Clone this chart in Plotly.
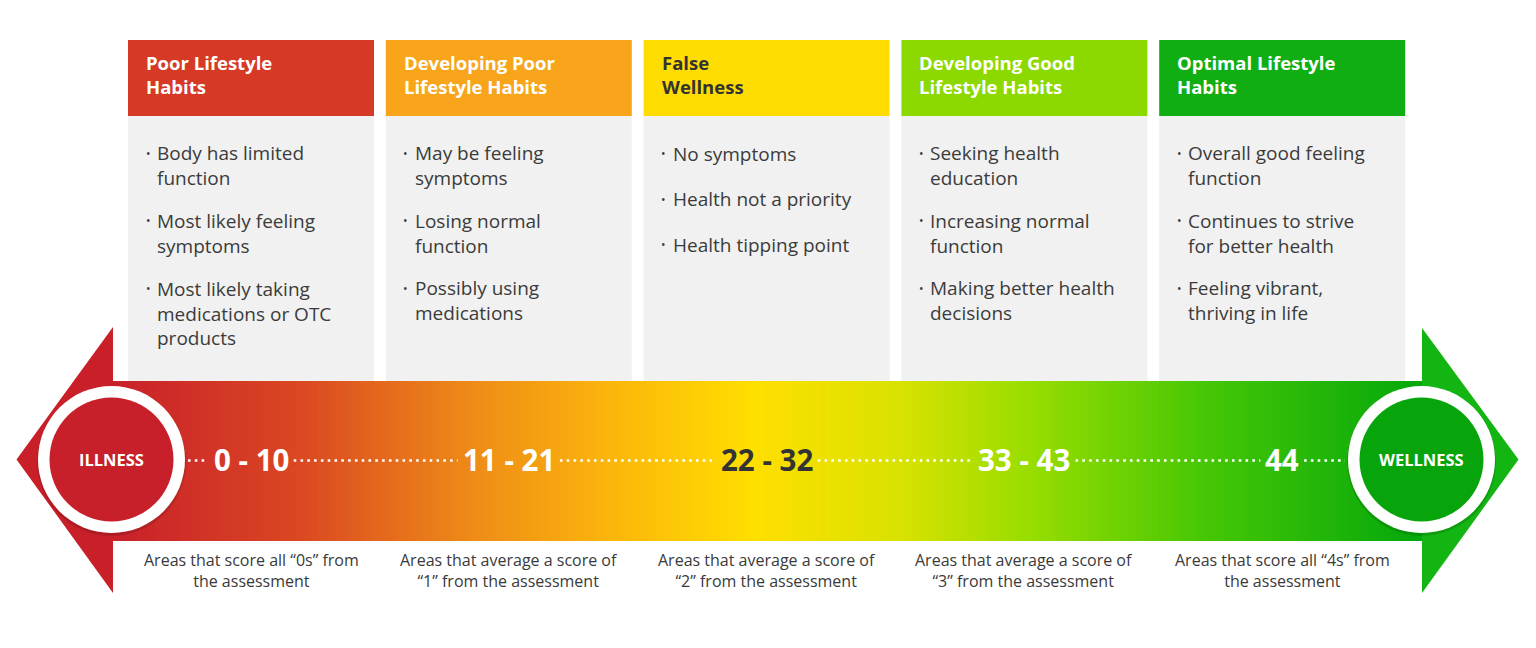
import numpy as np
import plotly.graph_objects as go

# ---------------- data ----------------
headers = [
    ["Poor Lifestyle", "Habits"],
    ["Developing Poor", "Lifestyle Habits"],
    ["False", "Wellness"],
    ["Developing Good", "Lifestyle Habits"],
    ["Optimal Lifestyle", "Habits"],
]
header_colors = ["#D63A26", "#F8A51B", "#FFDD00", "#8BD900", "#10AE12"]
header_text_colors = ["#FFFFFF", "#FFFFFF", "#333333", "#FFFFFF", "#FFFFFF"]

bullets = [
    [["Body has limited", "function"], ["Most likely feeling", "symptoms"],
     ["Most likely taking", "medications or OTC", "products"]],
    [["May be feeling", "symptoms"], ["Losing normal", "function"],
     ["Possibly using", "medications"]],
    [["No symptoms"], ["Health not a priority"], ["Health tipping point"]],
    [["Seeking health", "education"], ["Increasing normal", "function"],
     ["Making better health", "decisions"]],
    [["Overall good feeling", "function"], ["Continues to strive", "for better health"],
     ["Feeling vibrant,", "thriving in life"]],
]

score_ranges = ["0 - 10", "11 - 21", "22 - 32", "33 - 43", "44"]
range_text_colors = ["#FFFFFF", "#FFFFFF", "#333333", "#FFFFFF", "#FFFFFF"]

descriptions = [
    ["Areas that score all “0s” from", "the assessment"],
    ["Areas that average a score of", "“1” from the assessment"],
    ["Areas that average a score of", "“2” from the assessment"],
    ["Areas that average a score of", "“3” from the assessment"],
    ["Areas that score all “4s” from", "the assessment"],
]

end_labels = ["ILLNESS", "WELLNESS"]
end_colors = ["#C8202A", "#07A50B"]
arrow_colors = ["#C81F29", "#12B512"]

gradient_stops = [0.0, 0.14, 0.28, 0.39, 0.49, 0.60, 0.70, 0.83, 1.0]
gradient_colors = ["#C8202A", "#DA4622", "#EF8E17", "#FCB90A", "#FFDF00",
                   "#D9E200", "#98DD00", "#48C705", "#03A80B"]

# ---------------- layout geometry ----------------
PAGE_OFF = 8          # default body margin of the html page
W, H = 1536 - 2 * PAGE_OFF, 648 - 2 * PAGE_OFF
panel_x0 = 128.0
panel_step = 257.8
panel_w = 246.0
head_top, head_bot, body_bot = 40.0, 116.0, 381.0
band_top, band_bot = 381.0, 541.0
band_x0, band_x1 = 112.0, 1423.0
mid_y = 459.5
circ_cx = [111.5, 1421.5]
r_outer, r_inner = 73.5, 62.0

FONT = "Open Sans, Noto Sans, sans-serif"
TXT = "#3B3B3B"
LS = 1.3  # plotly line spacing factor

fig = go.Figure()
shapes = []
annotations = []

# gradient band (heatmap over pixel-space axes)
nb = 400
xe = np.linspace(band_x0, band_x1, nb + 1)
xc = (xe[:-1] + xe[1:]) / 2
fig.add_trace(go.Heatmap(
    x=xe, y=[band_top, band_bot], z=[xc],
    colorscale=[[s, c] for s, c in zip(gradient_stops, gradient_colors)],
    zmin=band_x0, zmax=band_x1, showscale=False, hoverinfo="skip",
))

# panels
HS = 18.5
BS = 19
for i, (hdr, hc, htc, items) in enumerate(zip(headers, header_colors, header_text_colors, bullets)):
    x0 = panel_x0 + i * panel_step
    x1 = x0 + panel_w
    shapes.append(dict(type="rect", x0=x0, x1=x1, y0=head_bot, y1=body_bot,
                       fillcolor="#F1F1F1", line=dict(width=0), layer="below"))
    shapes.append(dict(type="rect", x0=x0, x1=x1, y0=head_top, y1=head_bot,
                       fillcolor=hc, line=dict(width=0), layer="below"))
    annotations.append(dict(x=x0 + 16, y=62.5 + (len(hdr) - 1) * HS * LS / 2,
                            text="<br>".join("<b>%s</b>" % l for l in hdr),
                            xanchor="left", yanchor="middle", align="left", showarrow=False,
                            font=dict(family=FONT, size=HS, color=htc)))
    y = 153.5
    for item in items:
        annotations.append(dict(x=x0 + 20, y=y, text="•", xanchor="center", yanchor="middle",
                                showarrow=False, font=dict(family=FONT, size=12, color=TXT)))
        n = len(item)
        annotations.append(dict(x=x0 + 27, y=y + (n - 1) * BS * LS / 2, text="<br>".join(item),
                                xanchor="left", yanchor="middle", align="left", showarrow=False,
                                font=dict(family=FONT, size=BS, color=TXT)))
        y += (n - 1) * 21.7 + 45.7

# descriptions
DS = 16
for i, desc in enumerate(descriptions):
    cx = panel_x0 + i * panel_step + panel_w / 2
    annotations.append(dict(x=cx, y=560.5 + (len(desc) - 1) * DS * LS / 2, text="<br>".join(desc),
                            xanchor="center", yanchor="middle", align="center", showarrow=False,
                            font=dict(family=FONT, size=DS, color="#3A3A3A")))

# arrows
shapes.append(dict(type="path",
                   path="M %f %f L 16.5 %f L %f %f Z" % (band_x0 + 1, 327, mid_y, band_x0 + 1, 593),
                   fillcolor=arrow_colors[0], line=dict(width=0), layer="above"))
shapes.append(dict(type="path",
                   path="M %f %f L 1518.5 %f L %f %f Z" % (band_x1 - 1, 328, mid_y, band_x1 - 1, 593),
                   fillcolor=arrow_colors[1], line=dict(width=0), layer="above"))


# score labels + dotted connectors
def label_width(s, size):
    w = 0.0
    for ch in s:
        if ch.isdigit():
            w += 0.572
        elif ch == " ":
            w += 0.26
        else:
            w += 0.32
    return w * size


LBL = 29.5
segments = []
prev = circ_cx[0] + r_outer + 3
for i, (lbl, col) in enumerate(zip(score_ranges, range_text_colors)):
    cx = panel_x0 + i * panel_step + panel_w / 2
    hw = label_width(lbl, LBL) / 2
    segments.append((prev, cx - hw - 5))
    prev = cx + hw + 5
    annotations.append(dict(x=cx, y=mid_y, text="<b>%s</b>" % lbl, xanchor="center",
                            yanchor="middle", showarrow=False,
                            font=dict(family=FONT, size=LBL, color=col)))
segments.append((prev, circ_cx[1] - r_outer - 3))
for a, b in segments:
    fig.add_trace(go.Scatter(x=[a, b], y=[mid_y + 1, mid_y + 1], mode="lines",
                             line=dict(color="#FFFFFF", width=2.6, dash="2.6px,4.2px"),
                             hoverinfo="skip", showlegend=False))

# end circles
for cx, col, lbl in zip(circ_cx, end_colors, end_labels):
    shapes.append(dict(type="circle", x0=cx - r_outer - 1, x1=cx + r_outer + 1,
                       y0=mid_y - r_outer + 1, y1=mid_y + r_outer + 3,
                       fillcolor="rgba(0,0,0,0.13)", line=dict(width=0), layer="above"))
    shapes.append(dict(type="circle", x0=cx - r_outer, x1=cx + r_outer,
                       y0=mid_y - r_outer, y1=mid_y + r_outer,
                       fillcolor="#FFFFFF", line=dict(width=0), layer="above"))
    shapes.append(dict(type="circle", x0=cx - r_inner, x1=cx + r_inner,
                       y0=mid_y - r_inner, y1=mid_y + r_inner,
                       fillcolor=col, line=dict(width=0), layer="above"))
    annotations.append(dict(x=cx, y=mid_y, text="<b>%s</b>" % lbl, xanchor="center",
                            yanchor="middle", showarrow=False,
                            font=dict(family=FONT, size=16.5, color="#FFFFFF")))

fig.update_layout(
    width=W, height=H, margin=dict(l=0, r=0, t=0, b=0),
    paper_bgcolor="#FFFFFF", plot_bgcolor="#FFFFFF",
    xaxis=dict(range=[PAGE_OFF, PAGE_OFF + W], visible=False, fixedrange=True),
    yaxis=dict(range=[PAGE_OFF + H, PAGE_OFF], visible=False, fixedrange=True),
    shapes=shapes, annotations=annotations, showlegend=False,
)

fig.write_html("out.html", config={"displayModeBar": False})
